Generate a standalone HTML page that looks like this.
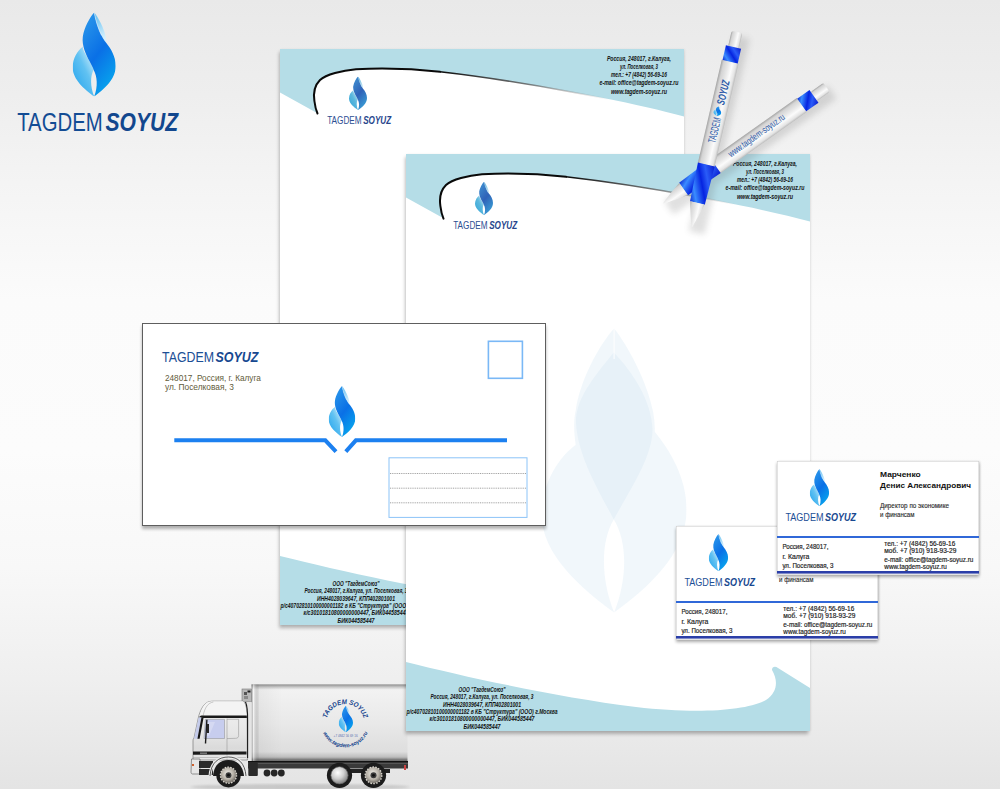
<!DOCTYPE html>
<html><head><meta charset="utf-8">
<style>
html,body{margin:0;padding:0;}
body{width:1000px;height:789px;overflow:hidden;position:relative;font-family:"Liberation Sans",sans-serif;
background:linear-gradient(180deg,#e9e9e9 0%,#eeeeee 12%,#f5f5f5 25%,#fbfbfb 38%,#fcfcfc 57%,#f8f8f8 72%,#efefef 86%,#e4e4e4 100%);}
.abs{position:absolute;left:0;top:0;}
svg text{font-family:"Liberation Sans",sans-serif;}
</style></head>
<body>
<svg width="0" height="0" style="position:absolute">
<defs>
  <linearGradient id="gBody" x1="0.2" y1="0" x2="0.7" y2="1">
    <stop offset="0" stop-color="#2a96ea"/>
    <stop offset="0.5" stop-color="#0a70e6"/>
    <stop offset="1" stop-color="#07a8ee"/>
  </linearGradient>
  <linearGradient id="gUp" x1="0" y1="0" x2="0.3" y2="1">
    <stop offset="0" stop-color="#5bbcf2"/>
    <stop offset="1" stop-color="#d6f0fc"/>
  </linearGradient>
  <linearGradient id="gLow" x1="0.9" y1="0.1" x2="0.2" y2="0.9">
    <stop offset="0" stop-color="#d0eefb"/>
    <stop offset="0.45" stop-color="#62c2f2"/>
    <stop offset="1" stop-color="#2ca8ee"/>
  </linearGradient>
  <linearGradient id="gBodyM" x1="0.2" y1="0" x2="0.7" y2="1">
    <stop offset="0" stop-color="#3f8fd0"/>
    <stop offset="0.5" stop-color="#2f62b8"/>
    <stop offset="1" stop-color="#3aa0d6"/>
  </linearGradient>
  <linearGradient id="gUpM" x1="0" y1="0" x2="0.3" y2="1">
    <stop offset="0" stop-color="#5ab0dc"/>
    <stop offset="1" stop-color="#c8e8f4"/>
  </linearGradient>
  <linearGradient id="gLowM" x1="0.9" y1="0.1" x2="0.2" y2="0.9">
    <stop offset="0" stop-color="#c0e4f2"/>
    <stop offset="0.45" stop-color="#5cb8de"/>
    <stop offset="1" stop-color="#3aa8d8"/>
  </linearGradient>
  <linearGradient id="gPenBody" x1="0" y1="0" x2="0" y2="1">
    <stop offset="0" stop-color="#bcbcbc"/>
    <stop offset="0.12" stop-color="#e4e4e4"/>
    <stop offset="0.35" stop-color="#fbfbfb"/>
    <stop offset="0.6" stop-color="#e6e6e6"/>
    <stop offset="0.85" stop-color="#d4d4d4"/>
    <stop offset="1" stop-color="#a4a4a4"/>
  </linearGradient>
  <linearGradient id="gPenBlue" x1="0" y1="0" x2="1" y2="1">
    <stop offset="0" stop-color="#0a1ed0"/>
    <stop offset="0.3" stop-color="#2a5cf8"/>
    <stop offset="0.5" stop-color="#0624e0"/>
    <stop offset="0.78" stop-color="#3a8cff"/>
    <stop offset="1" stop-color="#0a22d0"/>
  </linearGradient>
  <symbol id="pen" viewBox="0 -9 201 18" overflow="visible">
    <rect x="0" y="-5.5" width="16" height="11" rx="2" fill="url(#gPenBody)"/>
    <rect x="15.5" y="-7.8" width="15.5" height="15.6" fill="url(#gPenBlue)"/>
    <rect x="30.5" y="-8.6" width="106" height="17.2" fill="url(#gPenBody)"/>
    <path d="M136,-8.6 L175.5,-7.6 L175.5,7.6 L136,8.6 Z" fill="url(#gPenBlue)"/>
    <path d="M175.5,-7.3 C186,-5 193,-2.5 199,-0.8 Q202,0 199,0.8 C193,2.5 186,5 175.5,7.3 Z" fill="url(#gPenBody)"/>
  </symbol>
  <filter id="blur3" x="-20%" y="-50%" width="140%" height="200%"><feGaussianBlur stdDeviation="3"/></filter>
  <filter id="blur1"><feGaussianBlur stdDeviation="1"/></filter>
  <linearGradient id="gBox" x1="0" y1="0" x2="0" y2="1">
    <stop offset="0" stop-color="#8c8c8c"/>
    <stop offset="0.035" stop-color="#c8c8c8"/>
    <stop offset="0.07" stop-color="#f2f2f2"/>
    <stop offset="0.5" stop-color="#e9e9e9"/>
    <stop offset="0.88" stop-color="#dedede"/>
    <stop offset="0.95" stop-color="#bdbdbd"/>
    <stop offset="1" stop-color="#5a5a5a"/>
  </linearGradient>
  <linearGradient id="gBoxL" x1="0" y1="0" x2="1" y2="0">
    <stop offset="0" stop-color="#000" stop-opacity="0.25"/>
    <stop offset="0.012" stop-color="#fff" stop-opacity="0.5"/>
    <stop offset="0.05" stop-color="#000" stop-opacity="0.04"/>
    <stop offset="0.2" stop-color="#000" stop-opacity="0"/>
  </linearGradient>
  <linearGradient id="gCab" x1="0" y1="0" x2="0" y2="1">
    <stop offset="0" stop-color="#f2f2f2"/>
    <stop offset="0.55" stop-color="#e6e6e6"/>
    <stop offset="0.8" stop-color="#dadada"/>
    <stop offset="1" stop-color="#e8e8e8"/>
  </linearGradient>
  <radialGradient id="gRim" cx="0.45" cy="0.4" r="0.6">
    <stop offset="0" stop-color="#f0eee8"/>
    <stop offset="0.6" stop-color="#b8b2a8"/>
    <stop offset="1" stop-color="#6a6660"/>
  </radialGradient>
  <symbol id="wheel" viewBox="-13 -13 26 26" overflow="visible">
    <circle r="12.6" fill="#1c1c1c"/>
    <circle r="8.3" fill="url(#gRim)"/>
    <circle r="8.3" fill="none" stroke="#d8d4cc" stroke-width="1.4" stroke-dasharray="1.6 1.3"/>
    <circle r="3" fill="#3a3a3a"/>
    <circle r="1.4" fill="#111"/>
  </symbol>
  <radialGradient id="gChrome" cx="0.4" cy="0.35" r="0.7">
    <stop offset="0" stop-color="#ffffff"/>
    <stop offset="0.5" stop-color="#d0d0d0"/>
    <stop offset="1" stop-color="#7a7a7a"/>
  </radialGradient>
  <symbol id="wheelC" viewBox="-13 -13 26 26" overflow="visible">
    <circle r="12.6" fill="#1c1c1c"/>
    <circle r="8.6" fill="url(#gChrome)"/>
    <circle r="8.6" fill="none" stroke="#666" stroke-width="0.6"/>
  </symbol>
  <symbol id="flame" viewBox="0 0 43 84" preserveAspectRatio="none">
    <path fill="url(#gLow)" d="M10.1,34.4 C5,38 0,46 0,55 C0,67 12,77 21.5,84 C17.5,74 17.5,64 20.9,57.3 C20.5,55.5 19,53 17,49 C13,42 10,38 10.1,34.4 Z"/>
    <path fill="url(#gUp)" d="M21.5,0 C25.5,5 31,15 33,24.3 C33.5,27 33.6,29 33.6,30.6 C29,25 24,14 21.5,0 Z"/>
    <path fill="url(#gBody)" d="M21.5,0 C17,5 11.5,15 10.1,24.3 C9,33 13,42 17,49 C19,53 20.5,55.5 20.9,57.3 C24.5,64 25.5,74 21.5,84 C31,77 43,67 43,53.5 C43,44 38,36 33.6,30.6 C29,25 24,14 21.5,0 Z"/>
    <path fill="none" stroke="#fff" stroke-opacity="0.7" stroke-width="0.7" stroke-dasharray="24 100" d="M21.5,0 C24,14 29,25 33.6,30.6"/>
  </symbol>
  <symbol id="flameM" viewBox="0 0 43 84" preserveAspectRatio="none">
    <path fill="url(#gLowM)" d="M10.1,34.4 C5,38 0,46 0,55 C0,67 12,77 21.5,84 C17.5,74 17.5,64 20.9,57.3 C20.5,55.5 19,53 17,49 C13,42 10,38 10.1,34.4 Z"/>
    <path fill="url(#gUpM)" d="M21.5,0 C25.5,5 31,15 33,24.3 C33.5,27 33.6,29 33.6,30.6 C29,25 24,14 21.5,0 Z"/>
    <path fill="url(#gBodyM)" d="M21.5,0 C17,5 11.5,15 10.1,24.3 C9,33 13,42 17,49 C19,53 20.5,55.5 20.9,57.3 C24.5,64 25.5,74 21.5,84 C31,77 43,67 43,53.5 C43,44 38,36 33.6,30.6 C29,25 24,14 21.5,0 Z"/>
  </symbol>
  <symbol id="flameW" viewBox="0 0 43 84" preserveAspectRatio="none">
    <path fill="#3a90c8" fill-opacity="0.07" fill-rule="evenodd" d="M21.5,0 C25.5,5 31,15 33,24.3 C33.5,27 33.6,29 33.6,30.6 C38,36 43,44 43,53.5 C43,67 31,77 21.5,84 C12,77 0,67 0,55 C0,46 5,38 10.1,34.4 C9.5,30 9.5,27 10.1,24.3 C11.5,15 17,5 21.5,0 Z M21.4,56.5 C17.5,63 17.5,74 21.5,84 C25.5,74 25.5,63 21.4,56.5 Z"/>
    <path fill="#3a90c8" fill-opacity="0.05" d="M21.4,7 C15,15 10,21 10.2,28 C10.8,38 17,48 21.4,56.5 C26,48 33,38 32.9,29.7 C32.5,21 27,13 21.4,7 Z"/>
    <path fill="none" stroke="#fff" stroke-opacity="0.8" stroke-width="0.35" d="M21.5,0 L21.5,9"/>
  </symbol>
  <symbol id="card" viewBox="0 0 202 114">
    <rect width="202" height="114" fill="#fff"/>
    <rect x="0" y="0" width="202" height="114" fill="none" stroke="#c8c8c8" stroke-width="1"/>
    <use href="#flame" x="32.8" y="8.1" width="19.3" height="37.1"/>
    <text x="8.4" y="60.4" font-size="10.8" fill="#1c4f96" textLength="38.1" lengthAdjust="spacingAndGlyphs">TAGDEM</text>
    <text x="47.9" y="60.4" font-size="10.8" font-weight="bold" font-style="italic" fill="#174890" textLength="31" lengthAdjust="spacingAndGlyphs">SOYUZ</text>
    <g font-size="7.8" font-weight="bold" fill="#111">
      <text x="103" y="15.8" textLength="40.7" lengthAdjust="spacingAndGlyphs">Марченко</text>
      <text x="103" y="27.3" textLength="91" lengthAdjust="spacingAndGlyphs">Денис Александрович</text>
    </g>
    <g font-size="6.6" fill="#2a2a2a" stroke="#2a2a2a" stroke-width="0.12">
      <text x="103" y="46.5" textLength="69" lengthAdjust="spacingAndGlyphs">Директор по экономике</text>
      <text x="103" y="56" textLength="34.5" lengthAdjust="spacingAndGlyphs">и финансам</text>
    </g>
    <rect x="0" y="75" width="202" height="2" fill="#3068d8"/>
    <g font-size="6.8" fill="#1e1e1e" stroke="#1e1e1e" stroke-width="0.18">
      <text x="5.4" y="87.7" textLength="46" lengthAdjust="spacingAndGlyphs">Россия, 248017,</text>
      <text x="5.4" y="97.5" textLength="27" lengthAdjust="spacingAndGlyphs">г. Калуга</text>
      <text x="5.4" y="106.7" textLength="51" lengthAdjust="spacingAndGlyphs">ул. Поселковая, 3</text>
      <text x="107.3" y="84.8" textLength="71" lengthAdjust="spacingAndGlyphs">тел.: +7 (4842) 56-69-16</text>
      <text x="107.3" y="91.8" textLength="72" lengthAdjust="spacingAndGlyphs">моб. +7  (910) 918-93-29</text>
      <text x="107.3" y="100.6" textLength="89" lengthAdjust="spacingAndGlyphs">e-mail: office@tagdem-soyuz.ru</text>
      <text x="107.3" y="108.2" textLength="62.5" lengthAdjust="spacingAndGlyphs">www.tagdem-soyuz.ru</text>
    </g>
    <rect x="0" y="110" width="202" height="2.6" fill="#2b3ea8"/>
  </symbol>
  <linearGradient id="gStroke" gradientUnits="userSpaceOnUse" x1="160" y1="0" x2="330" y2="0">
    <stop offset="0" stop-color="#0a0a0a"/>
    <stop offset="0.5" stop-color="#555" stop-opacity="0.8"/>
    <stop offset="1" stop-color="#888" stop-opacity="0"/>
  </linearGradient>
  <symbol id="lh" viewBox="0 0 404 576" preserveAspectRatio="none">
    <rect width="404" height="576" fill="#fff"/>
    <path fill="#b5dde7" d="M0,0 H404 V67.5 C343.5,51.2 238.4,31.75 160,22.8 C130,19.4 95,19.3 76,20.2 C62,21.5 46,25.5 40,31 C34,37 33.5,46 34.4,52 C35,57 36,61 37,64 L0,43.5 Z"/>
    <path fill="none" stroke="url(#gStroke)" stroke-width="1.5" d="M404,67.5 C343.5,51.2 238.4,31.75 160,22.8"/>
    <path fill="none" stroke="#0a0a0a" stroke-width="2" stroke-linecap="round" d="M160,22.8 C130,19.4 95,19.3 76,20.2 C62,21.5 46,25.5 40,31 C34,37 33.5,46 34.4,52 C35,57 36,61 37.5,64.5"/>
    <use href="#flameM" x="69" y="27.6" width="18" height="33.5"/>
    <text x="47.2" y="75" font-size="10" fill="#2c4e93" textLength="34.4" lengthAdjust="spacingAndGlyphs">TAGDEM</text>
    <text x="83.2" y="75" font-size="10.2" font-weight="bold" font-style="italic" fill="#26458c" textLength="28" lengthAdjust="spacingAndGlyphs">SOYUZ</text>
    <g font-size="7.3" font-weight="bold" font-style="italic" fill="#111" text-anchor="middle">
      <text x="359" y="12.3" textLength="64" lengthAdjust="spacingAndGlyphs">Россия, 248017, г.Калуга,</text>
      <text x="359" y="20.1" textLength="38" lengthAdjust="spacingAndGlyphs">ул. Поселковая, 3</text>
      <text x="359" y="27.8" textLength="56" lengthAdjust="spacingAndGlyphs">тел.: +7 (4842) 56-69-16</text>
      <text x="359" y="36.1" textLength="79" lengthAdjust="spacingAndGlyphs">e-mail: office@tagdem-soyuz.ru</text>
      <text x="359" y="44.7" textLength="56" lengthAdjust="spacingAndGlyphs">www.tagdem-soyuz.ru</text>
    </g>
    <path fill="#b5dde7" d="M0,507 C60,522 150,542 230,552 C290,559 340,556 360,545 C372,537 372,525 366,515 C366,512 369,511 372,513 L404,533 V576 H0 Z"/>
    <g font-size="6.9" font-weight="bold" font-style="italic" fill="#111" text-anchor="middle">
      <text x="76" y="536.6" textLength="47" lengthAdjust="spacingAndGlyphs">ООО "ТагдемСоюз"</text>
      <text x="76" y="544" textLength="103" lengthAdjust="spacingAndGlyphs">Россия, 248017, г.Калуга, ул. Поселковая, 3</text>
      <text x="76" y="551.6" textLength="78" lengthAdjust="spacingAndGlyphs">ИНН4028039647, КПП402801001</text>
      <text x="76" y="559.2" textLength="151" lengthAdjust="spacingAndGlyphs">р/с40702810100000001182 в КБ "Структура" (ООО) г.Москва</text>
      <text x="76" y="566.2" textLength="105" lengthAdjust="spacingAndGlyphs">к/с30101810800000000447, БИК044585447</text>
      <text x="76" y="573.8" textLength="37" lengthAdjust="spacingAndGlyphs">БИК044585447</text>
    </g>
  </symbol>
</defs>
</svg>

<!-- top-left logo -->
<svg class="abs" width="200" height="150" style="left:0;top:0">
  <use href="#flame" x="72.7" y="12.4" width="43" height="84"/>
  <text x="17.2" y="130.8" font-size="26" fill="#134c94" textLength="85.5" lengthAdjust="spacingAndGlyphs">TAGDEM</text>
  <text x="105.5" y="130.8" font-size="26" font-weight="bold" font-style="italic" fill="#12478e" textLength="72.5" lengthAdjust="spacingAndGlyphs">SOYUZ</text>
</svg>

<!-- back letterhead -->
<div class="abs" style="left:280px;top:49px;width:404px;height:576px;box-shadow:-1.5px 3px 3.5px rgba(0,0,0,0.28), 1px 0 2px rgba(0,0,0,0.06);">
  <svg width="404" height="576"><use href="#lh" width="404" height="576"/></svg>
</div>

<!-- truck -->
<svg class="abs" width="230" height="110" style="left:180px;top:679px;overflow:visible">
  <g transform="translate(-180,-679)">
    <!-- ground shadow -->
    <ellipse cx="300" cy="787" rx="110" ry="3" fill="#000" opacity="0.12" filter="url(#blur1)"/>
    <!-- box -->
    <rect x="251.5" y="684.4" width="156" height="76.5" fill="url(#gBox)"/>
    <rect x="251.5" y="684.4" width="156" height="76.5" fill="url(#gBoxL)"/>
    <!-- reefer unit -->
    <rect x="242" y="689" width="9.5" height="13" fill="#b8b8b8" stroke="#777" stroke-width="0.6"/>
    <rect x="244" y="692" width="3" height="3" fill="#555"/>
    <rect x="247.5" y="690.5" width="3" height="2" fill="#222"/>
    <rect x="244" y="696" width="4" height="3" fill="#888"/>
    <!-- chassis -->
    <rect x="248" y="761.5" width="160" height="7" fill="#3a3a3a"/><rect x="248" y="763" width="160" height="1" fill="#555"/>
    <rect x="248" y="761" width="160" height="1.2" fill="#111"/>
    <rect x="330" y="769" width="60" height="4" fill="#222"/>
    <circle cx="267" cy="773" r="3.4" fill="#262626"/>
    <circle cx="274.2" cy="773" r="3.4" fill="#262626"/>
    <circle cx="281.3" cy="773" r="3.4" fill="#262626"/>
    <rect x="248.3" y="762" width="9.5" height="14" rx="1" fill="#2a2a2a"/>
    <rect x="404" y="765" width="2" height="5" fill="#c44"/>
    <!-- cab -->
    <rect x="246.5" y="702" width="5" height="59" fill="#e4e4e4"/>
    <path d="M193,760 L193,741 C193,739 193.5,738.5 194,738 L198.5,717 C200,711 203,705 206.3,703 C208,701.8 210,701.2 213.4,701.2 L242.7,701.2 C245,702 246.6,708 247.1,717.2 L247.4,760 Z" fill="url(#gCab)" stroke="#666" stroke-width="0.6"/>
    <path d="M199.5,716.3 C201,710 203.5,705 206.3,703 C208,701.8 210,701.2 213.4,701.2 L242.7,701.2 C245,702 246.3,708 246.8,716.3 Z" fill="#f4f4f4"/>
    <path d="M203,716 C205,707 208,703 213.4,702" fill="none" stroke="#9a9a9a" stroke-width="0.5"/>
    <path d="M198.8,717.3 C200,715.8 201,715.5 203,715.5 L246.8,715.5 L246.9,718 L203,718 Z" fill="#1a1a1a"/>
    <path d="M194,738.8 L198.6,717.4 L201.4,717.4 L197.4,738.8 Z" fill="#c4cbea"/>
    <path d="M197.4,738.8 L201.4,717.4 L203.6,717.4 L199.6,738.8 Z" fill="#161616"/>
    <path d="M205.4,719.4 L224.5,719.4 L224.5,738.5 L204,738.5 Z" fill="#c7cdee" stroke="#777" stroke-width="0.4"/>
    <path d="M207,722 L215,722 L209,736 L205.5,736 Z" fill="#fff" opacity="0.25"/>
    <path d="M227,719.3 L238.6,719.3 L238.6,735.5 C238.6,737.5 237.5,738.3 235.5,738.3 L227,738.6" fill="none" stroke="#8a8a8a" stroke-width="0.5"/>
    <line x1="227" y1="718.5" x2="227" y2="760" stroke="#8a8a8a" stroke-width="0.5"/>
    <path d="M245.5,702 C247.3,706 247.7,712 247.6,720 L247.6,758" fill="none" stroke="#1a1a1a" stroke-width="1.1"/>
    <path d="M206.2,719.8 L207.6,719.8 L206.2,743.4 L204.8,743.4 Z" fill="#1a1a1a"/>
    <rect x="206.8" y="724" width="2.2" height="9" fill="#262626"/>
    <path d="M193,751.6 L246.5,751.6 L246.5,754.6 L193,754.8 Z" fill="#1a1a1a"/>
    <rect x="200" y="752.6" width="7" height="1.1" fill="#999"/>
    <line x1="193" y1="757.5" x2="246" y2="757.5" stroke="#9a9a9a" stroke-width="0.5"/>
    <!-- bumper/steps -->
    <path d="M191.5,759 L200,759 L200,774 L192.5,774 C191.5,774 191,773 191,772 Z" fill="#e6e6e6" stroke="#555" stroke-width="0.6"/>
    <rect x="192" y="764" width="2" height="2" fill="#d0602a"/>
    <rect x="199" y="761" width="14" height="7" fill="#2a2a2a"/>
    <rect x="199" y="769" width="14" height="6" fill="#2a2a2a"/>
    <!-- fender -->
    <path d="M210,776 C211,762 219,757 228.5,757 C238,757 245,763 246,776" fill="none" stroke="#ececec" stroke-width="3"/>
    <path d="M210,776 C211,762 219,757 228.5,757 C238,757 245,763 246,776" fill="none" stroke="#333" stroke-width="0.8"/>
    <path d="M213,776 C214,765 220,760 228.5,760 C237,760 243,766 244,776 Z" fill="#1c1c1c"/>
    <!-- wheels -->
    <use href="#wheel" x="215.9" y="762.6" width="25.2" height="25.2"/>
    <use href="#wheelC" x="326.5" y="762.3" width="26" height="26"/>
    <use href="#wheel" x="360.5" y="762.3" width="26" height="26"/>
    <!-- logo -->
    <defs>
      <path id="arcTop" d="M326.3,723 A19,19 0 0 1 364.3,723"/>
      <path id="arcBot" d="M321,723 A24.3,24.3 0 0 0 369.6,723"/>
    </defs>
    <text font-size="6.8" font-weight="bold" font-style="italic" fill="#133f8c"><textPath href="#arcTop" startOffset="50%" text-anchor="middle" textLength="50" lengthAdjust="spacingAndGlyphs">TAGDEM SOYUZ</textPath></text>
    <text font-size="5.4" font-weight="bold" font-style="italic" fill="#133f8c"><textPath href="#arcBot" startOffset="50%" text-anchor="middle" textLength="56" lengthAdjust="spacingAndGlyphs">www.tagdem-soyuz.ru</textPath></text>
    <use href="#flame" x="338.7" y="705.8" width="14.3" height="26.5"/>
    <text x="345.6" y="737" font-size="3.6" fill="#5a70b0" text-anchor="middle" textLength="24" lengthAdjust="spacingAndGlyphs">+7 4842 56 69 16</text>
  </g>
</svg>

<!-- front letterhead -->
<div class="abs" style="left:406px;top:154px;width:404px;height:577px;box-shadow:-1.5px 3px 3.5px rgba(0,0,0,0.28), 1px 0 2px rgba(0,0,0,0.06);">
  <svg width="404" height="577" style="display:block">
    <use href="#lh" width="404" height="577"/>
    <use href="#flameW" x="135.6" y="174.6" width="145" height="284"/>
  </svg>
</div>


<!-- pens -->
<svg class="abs" width="1000" height="789" style="left:0;top:0;overflow:visible">
  <g transform="translate(5,5)" opacity="0.18" filter="url(#blur3)">
    <rect transform="translate(737,32) rotate(103.04)" x="0" y="-8" width="201" height="16" fill="#555"/>
    <rect transform="translate(827,87) rotate(144.6)" x="0" y="-8" width="200" height="16" fill="#555"/>
  </g>
  <g transform="translate(827,87) rotate(144.6)">
    <use href="#pen" x="0" y="-9" width="202" height="18"/>
    <text transform="rotate(180)" x="-119" y="1.8" font-size="9.5" fill="#2b5aa8" textLength="67" lengthAdjust="spacingAndGlyphs">www.tagdem-soyuz.ru</text>
  </g>
  <g transform="translate(737,32) rotate(103.04)">
    <use href="#pen" x="0" y="-9" width="201" height="18"/>
    <g transform="rotate(180)">
      <text x="-113.5" y="4" font-size="11" fill="#2b5aa8" textLength="25.5" lengthAdjust="spacingAndGlyphs">TAGDEM</text>
      <use href="#flame" transform="translate(-81.5,-1) rotate(90)" x="-4" y="-5" width="8" height="10"/>
      <text x="-74.5" y="4" font-size="11" font-weight="bold" font-style="italic" fill="#2b5aa8" textLength="25" lengthAdjust="spacingAndGlyphs">SOYUZ</text>
    </g>
  </g>
</svg>

<!-- envelope -->
<div class="abs" style="left:142px;top:323px;width:402px;height:201px;border:1px solid #5e5e5e;background:#fff;box-shadow:0 3px 3px rgba(0,0,0,0.3);">
  <svg width="401" height="200" style="display:block;position:absolute;left:-1px;top:-1px;overflow:visible">
    <text x="20" y="39.3" font-size="15.5" fill="#1c4f96" textLength="52" lengthAdjust="spacingAndGlyphs">TAGDEM</text>
    <text x="73.5" y="39.3" font-size="15.5" font-weight="bold" font-style="italic" fill="#174890" textLength="43" lengthAdjust="spacingAndGlyphs">SOYUZ</text>
    <g font-size="8.3" fill="#5f5b3a">
      <text x="22.9" y="58.3" textLength="96" lengthAdjust="spacingAndGlyphs">248017, Россия, г. Калуга</text>
      <text x="22.9" y="67.3" textLength="69" lengthAdjust="spacingAndGlyphs">ул. Поселковая, 3</text>
    </g>
    <use href="#flame" x="186.7" y="63" width="26.6" height="51"/>
    <path fill="none" stroke="#1c80f0" stroke-width="4" d="M32.3,117.3 H183.3 L194,128.7 M203.8,128.7 L213.9,117.3 H365"/>
    <rect x="346.4" y="18.3" width="34" height="37" fill="none" stroke="#7ab8f6" stroke-width="1.6"/>
    <rect x="247" y="134.8" width="138" height="59.6" fill="none" stroke="#8cc4f8" stroke-width="1"/>
    <g stroke="#8a8a8a" stroke-width="0.8" stroke-dasharray="1 0.8">
      <line x1="248" y1="150.5" x2="384.5" y2="150.5"/>
      <line x1="248" y1="165.2" x2="384.5" y2="165.2"/>
      <line x1="248" y1="179.8" x2="384.5" y2="179.8"/>
    </g>
  </svg>
</div>

<!-- business card front (left) -->
<div class="abs" style="left:676px;top:526px;width:202px;height:114px;box-shadow:0 2px 3px rgba(0,0,0,0.32), 1px 0 2px rgba(0,0,0,0.1);background:#fff;">
  <svg width="202" height="114" style="display:block"><use href="#card" width="202" height="114"/></svg>
</div>
<!-- business card back (right) -->
<div class="abs" style="left:777px;top:461px;width:202px;height:114px;box-shadow:0 2px 3px rgba(0,0,0,0.32), 1px 0 2px rgba(0,0,0,0.1);background:#fff;">
  <svg width="202" height="114" style="display:block"><use href="#card" width="202" height="114"/></svg>
</div>
</body></html>
